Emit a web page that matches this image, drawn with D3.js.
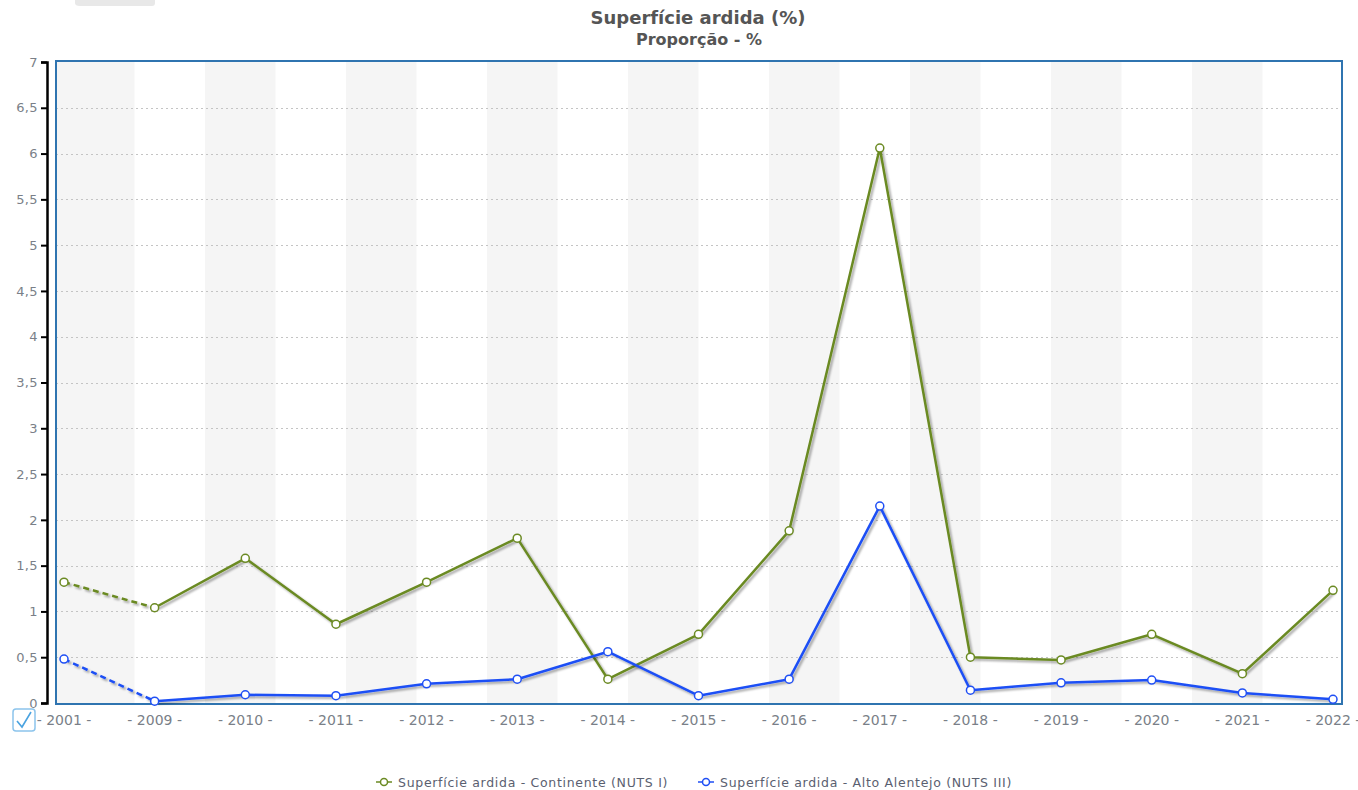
<!DOCTYPE html>
<html>
<head>
<meta charset="utf-8">
<script src="https://cdn.jsdelivr.net/npm/d3@7"></script>
<style>
  body { margin: 0; background: #fff; font-family: Verdana, "DejaVu Sans", sans-serif; }
  svg text { font-family: Verdana, "DejaVu Sans", sans-serif; }
</style>
</head>
<body>
<div id="root"></div>
<script>
const years = ["2001", "2009", "2010", "2011", "2012", "2013", "2014", "2015", "2016", "2017", "2018", "2019", "2020", "2021", "2022"];
const continente = [1.32, 1.04, 1.58, 0.86, 1.32, 1.80, 0.26, 0.75, 1.88, 6.06, 0.50, 0.47, 0.75, 0.32, 1.23];
const altoAlentejo = [0.48, 0.02, 0.09, 0.08, 0.21, 0.26, 0.56, 0.08, 0.26, 2.15, 0.14, 0.22, 0.25, 0.11, 0.04];
const yTicks = [0, 0.5, 1, 1.5, 2, 2.5, 3, 3.5, 4, 4.5, 5, 5.5, 6, 6.5, 7];
const seriesNames = ["Superfície ardida - Continente (NUTS I)", "Superfície ardida - Alto Alentejo (NUTS III)"];
const seriesColors = ["#6b8a23", "#1f4ff5"];

const w = 1358;
const h = 790;
const plotLeft = 56, plotRight = 1342, plotTop = 61, plotBottom = 704;

const svg = d3.select("#root")
    .append("svg")
    .attr("width", w)
    .attr("height", h);

const defs = svg.append("defs");
const shadow = defs.append("filter")
    .attr("id", "shadow")
    .attr("x", "-5%").attr("y", "-5%")
    .attr("width", "110%").attr("height", "110%");
shadow.append("feDropShadow")
    .attr("dx", 2).attr("dy", 2)
    .attr("stdDeviation", 1.2)
    .attr("flood-color", "#000")
    .attr("flood-opacity", 0.35);

const xScale = d3.scalePoint()
    .domain(years)
    .range([64, 1333]);

const yScale = d3.scaleLinear()
    .domain([0, 7])
    .range([703, 62]);

// small tab at the top
svg.append("path")
    .attr("d", "M75,0 H155 V3 Q155,6 152,6 H80 Q75,6 75,3 Z")
    .attr("fill", "#e8e8e8");

// title
svg.append("text")
    .attr("x", 698)
    .attr("y", 24)
    .attr("text-anchor", "middle")
    .style("font-size", "18px")
    .style("font-weight", "bold")
    .attr("fill", "#555")
    .text("Superfície ardida (%)");
svg.append("text")
    .attr("x", 699)
    .attr("y", 45)
    .attr("text-anchor", "middle")
    .style("font-size", "16px")
    .style("font-weight", "bold")
    .attr("fill", "#555")
    .text("Proporção - %");

// alternating background bands (18 equal slices between first and last point)
const x0 = xScale(years[0]);
const x1 = xScale(years[years.length - 1]);
const nBands = 18;
const bw = (x1 - x0) / nBands;
const bands = d3.range(nBands).filter(i => i % 2 === 0);
svg.append("g")
    .selectAll("rect")
    .data(bands)
    .enter()
    .append("rect")
    .attr("x", i => i === 0 ? plotLeft : x0 + i * bw)
    .attr("y", plotTop)
    .attr("width", i => i === 0 ? x0 + bw - plotLeft : bw)
    .attr("height", plotBottom - plotTop)
    .attr("fill", "#f5f5f5");

// grid lines
svg.append("g")
    .selectAll("line")
    .data(yTicks.filter(d => d > 0 && d < 7))
    .enter()
    .append("line")
    .attr("x1", plotLeft)
    .attr("x2", plotRight)
    .attr("y1", d => Math.round(yScale(d)) + 0.5)
    .attr("y2", d => Math.round(yScale(d)) + 0.5)
    .attr("stroke", "#c4c4c4")
    .attr("stroke-dasharray", "2,3");

// plot border
svg.append("rect")
    .attr("x", plotLeft)
    .attr("y", plotTop)
    .attr("width", plotRight - plotLeft)
    .attr("height", plotBottom - plotTop)
    .attr("fill", "none")
    .attr("stroke", "#2f74b0")
    .attr("stroke-width", 2);

// y-axis
const yAxis = d3.axisLeft(yScale)
    .tickValues(yTicks)
    .tickSize(6)
    .tickPadding(3)
    .tickFormat(d => String(d).replace(".", ","));
const yg = svg.append("g")
    .attr("transform", "translate(47, 0)")
    .call(yAxis);
yg.select(".domain").attr("stroke", "#000").attr("stroke-width", 2.5);
yg.selectAll(".tick line").attr("stroke", "#000").attr("stroke-width", 2);
yg.selectAll(".tick text")
    .attr("fill", "#7a7f88")
    .style("font-size", "13px")
    .style("letter-spacing", "0.4px");

// x-axis labels
svg.append("g")
    .selectAll("text")
    .data(years)
    .enter()
    .append("text")
    .attr("x", d => xScale(d))
    .attr("y", 725)
    .attr("text-anchor", "middle")
    .attr("fill", "#7a7f88")
    .style("font-size", "14px")
    .text(d => "- " + d + " -");

// checkbox icon
svg.append("rect")
    .attr("x", 13).attr("y", 709)
    .attr("width", 22).attr("height", 22)
    .attr("rx", 3)
    .attr("fill", "#fff")
    .attr("stroke", "#8cc4ec")
    .attr("stroke-width", 1.5);
svg.append("path")
    .attr("d", "M17,721 L22,727 L31,712")
    .attr("fill", "none")
    .attr("stroke", "#4aa3e0")
    .attr("stroke-width", 1.6);

// series lines
const allSeries = [continente, altoAlentejo];
const line = d3.line()
    .x(d => xScale(years[d[0]]))
    .y(d => yScale(d[1]));

allSeries.forEach((vals, s) => {
    const g = svg.append("g");
    const pts = vals.map((v, i) => [i, v]);
    // first segment dashed
    g.append("path")
        .attr("d", line(pts.slice(0, 2)))
        .attr("fill", "none")
        .attr("stroke", seriesColors[s])
        .attr("stroke-width", 2.5)
        .attr("stroke-dasharray", "6,4")
        .attr("filter", "url(#shadow)");
    g.append("path")
        .attr("d", line(pts.slice(1)))
        .attr("fill", "none")
        .attr("stroke", seriesColors[s])
        .attr("stroke-width", 2.5)
        .attr("stroke-linejoin", "round")
        .attr("filter", "url(#shadow)");
    g.selectAll("circle")
        .data(vals)
        .enter()
        .append("circle")
        .attr("cx", (d, i) => xScale(years[i]))
        .attr("cy", d => yScale(d))
        .attr("r", 4)
        .attr("fill", "#fff")
        .attr("stroke", seriesColors[s])
        .attr("stroke-width", 1.5);
});

// legend
const legendX = [376, 698];
seriesNames.forEach((name, s) => {
    const lg = svg.append("g").attr("transform", "translate(" + legendX[s] + ", 782)");
    lg.append("line")
        .attr("x1", 0).attr("x2", 16)
        .attr("y1", 0).attr("y2", 0)
        .attr("stroke", seriesColors[s])
        .attr("stroke-width", 1.5);
    lg.append("circle")
        .attr("cx", 8).attr("cy", 0)
        .attr("r", 3.5)
        .attr("fill", "#fff")
        .attr("stroke", seriesColors[s])
        .attr("stroke-width", 1.5);
    lg.append("text")
        .attr("x", 22)
        .attr("y", 4.5)
        .attr("fill", "#5a6070")
        .style("font-size", "12.5px")
        .style("letter-spacing", "0.7px")
        .text(name);
});
</script>
</body>
</html>
